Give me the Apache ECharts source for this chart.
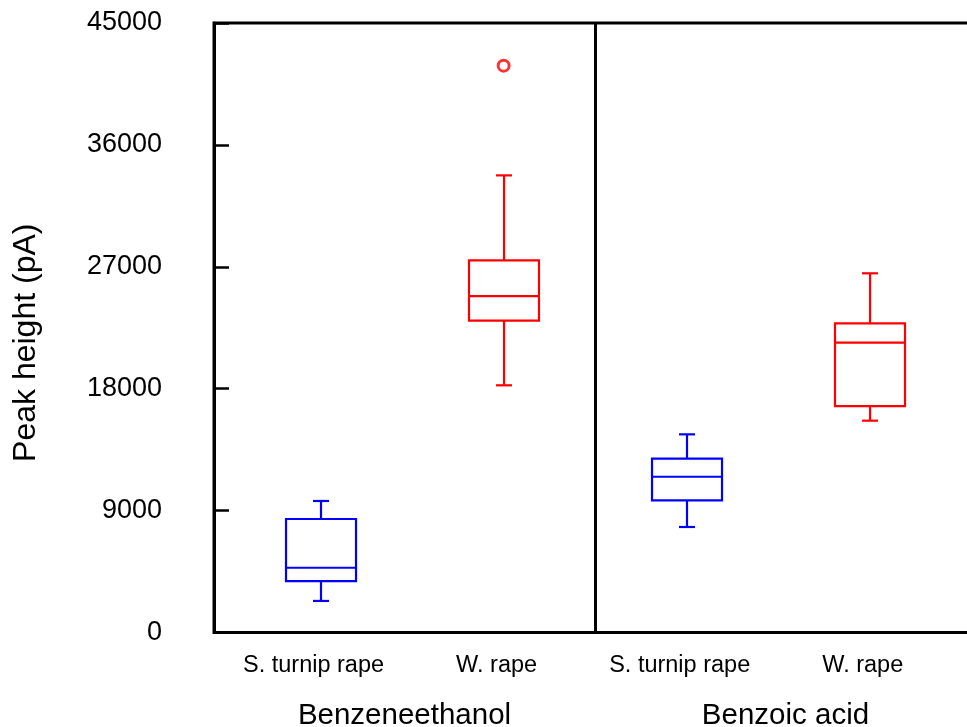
<!DOCTYPE html>
<html>
<head>
<meta charset="utf-8">
<style>
  html, body { margin: 0; padding: 0; background: #fff; }
  #chart { width: 967px; height: 727px; }
</style>
<script src="https://cdn.jsdelivr.net/npm/echarts@6/dist/echarts.min.js"></script>
</head>
<body>
<div id="chart"></div>
<script>
// Compounds (panels) and plant types (boxes inside each panel)
const compounds = ['Benzeneethanol', 'Benzoic acid'];
const plants = ['S. turnip rape', 'W. rape'];

// Box statistics per compound: [min, Q1, median, Q3, max]
const turnipRapeStats = [
  [2330, 3800, 4780, 8380, 9710],     // Benzeneethanol
  [7790, 9760, 11500, 12830, 14630]   // Benzoic acid
];
const wRapeStats = [
  [18250, 23020, 24840, 27480, 33750], // Benzeneethanol
  [15640, 16720, 21400, 22830, 26520]  // Benzoic acid
];
// Outliers: [compound index, value]
const wRapeOutliers = [[0, 41850]];

// Y axis ticks
const yMin = 0;
const yMax = 45000;
const yStep = 9000;

// One slot per compound/plant pair, ordered by compound then plant
const slots = [];
compounds.forEach(c => plants.forEach(p => slots.push(c + '|' + p)));
const slotIndex = (ci, pi) => ci * plants.length + pi;

const turnipData = turnipRapeStats.map((s, ci) => [slotIndex(ci, 0)].concat(s));
const wRapeData = wRapeStats.map((s, ci) => [slotIndex(ci, 1)].concat(s));
const outlierData = wRapeOutliers.map(o => [slotIndex(o[0], 1), o[1]]);

const FONT = '"Liberation Sans", Arial, sans-serif';

function renderBox(params, api) {
  const x = api.value(0);
  const lo = api.coord([x, api.value(1)]);
  const q1 = api.coord([x, api.value(2)]);
  const md = api.coord([x, api.value(3)]);
  const q3 = api.coord([x, api.value(4)]);
  const hi = api.coord([x, api.value(5)]);
  const color = api.visual('color');
  const cx = Math.round(lo[0]);
  const hw = 35;   // half box width
  const cw = 8;    // half whisker cap width
  const st = { stroke: color, lineWidth: 2.2, fill: null };
  const line = (x1, y1, x2, y2) => ({ type: 'line', shape: { x1, y1, x2, y2 }, style: st });
  return {
    type: 'group',
    children: [
      { type: 'rect', shape: { x: cx - hw, y: q3[1], width: 2 * hw, height: q1[1] - q3[1] }, style: st },
      line(cx - hw, md[1], cx + hw, md[1]),
      line(cx, q3[1], cx, hi[1]),
      line(cx, q1[1], cx, lo[1]),
      line(cx - cw, hi[1], cx + cw, hi[1]),
      line(cx - cw, lo[1], cx + cw, lo[1])
    ]
  };
}

const chart = echarts.init(document.getElementById('chart'), null, { renderer: 'canvas' });

const gridTop = 23;
const gridBottom = 94.5;

chart.setOption({
  animation: false,
  backgroundColor: '#fff',
  grid: [
    // framed panels, one per compound (right edge runs past the canvas)
    { left: 214, top: gridTop, bottom: gridBottom, width: 762, show: true,
      outerBoundsMode: 'none', containLabel: false,
      borderColor: '#000', borderWidth: 3, backgroundColor: 'transparent' },
    // box positions
    { left: 229, top: gridTop, bottom: gridBottom, width: 732.3,
      outerBoundsMode: 'none', containLabel: false }
  ],
  xAxis: [
    {
      gridIndex: 0, type: 'category', data: compounds, position: 'bottom',
      axisLine: { show: false }, axisTick: { show: false },
      axisLabel: { interval: 0, margin: 68, color: '#000', fontSize: 29.5, fontFamily: FONT },
      splitLine: { show: true, lineStyle: { color: '#000', width: 3 } }
    },
    {
      gridIndex: 1, type: 'category', data: slots,
      axisLine: { show: false }, axisTick: { show: false },
      axisLabel: {
        interval: 0, margin: 21, color: '#000', fontSize: 23.5, fontFamily: FONT,
        padding: [0, 14, 0, 0],
        formatter: v => v.split('|')[1]
      },
      splitLine: { show: false }
    }
  ],
  yAxis: [
    {
      gridIndex: 0, type: 'value', min: yMin, max: yMax, interval: yStep,
      axisLine: { show: true, lineStyle: { color: '#000', width: 3 } },
      axisTick: { show: true, inside: true, length: 15, lineStyle: { color: '#000', width: 2.5 } },
      axisLabel: { margin: 52, color: '#000', fontSize: 27, fontFamily: FONT, formatter: v => String(v) },
      splitLine: { show: false },
      name: 'Peak height (pA)', nameLocation: 'middle', nameRotate: 90, nameGap: 172,
      nameTextStyle: { color: '#000', fontSize: 32, fontFamily: FONT, padding: [0, 30, 0, 0] }
    },
    { gridIndex: 1, type: 'value', min: yMin, max: yMax, interval: yStep, show: false }
  ],
  series: [
    {
      name: plants[0], type: 'custom', xAxisIndex: 1, yAxisIndex: 1,
      itemStyle: { color: '#0000ff' },
      encode: { x: 0, y: [1, 2, 3, 4, 5] },
      renderItem: renderBox, data: turnipData
    },
    {
      name: plants[1], type: 'custom', xAxisIndex: 1, yAxisIndex: 1,
      itemStyle: { color: '#ff0000' },
      encode: { x: 0, y: [1, 2, 3, 4, 5] },
      renderItem: renderBox, data: wRapeData
    },
    {
      name: plants[1] + ' outliers', type: 'scatter', xAxisIndex: 1, yAxisIndex: 1,
      symbol: 'circle', symbolSize: 11,
      itemStyle: { color: '#fff', borderColor: '#ff0000', borderWidth: 3 },
      data: outlierData
    }
  ]
});
</script>
</body>
</html>
